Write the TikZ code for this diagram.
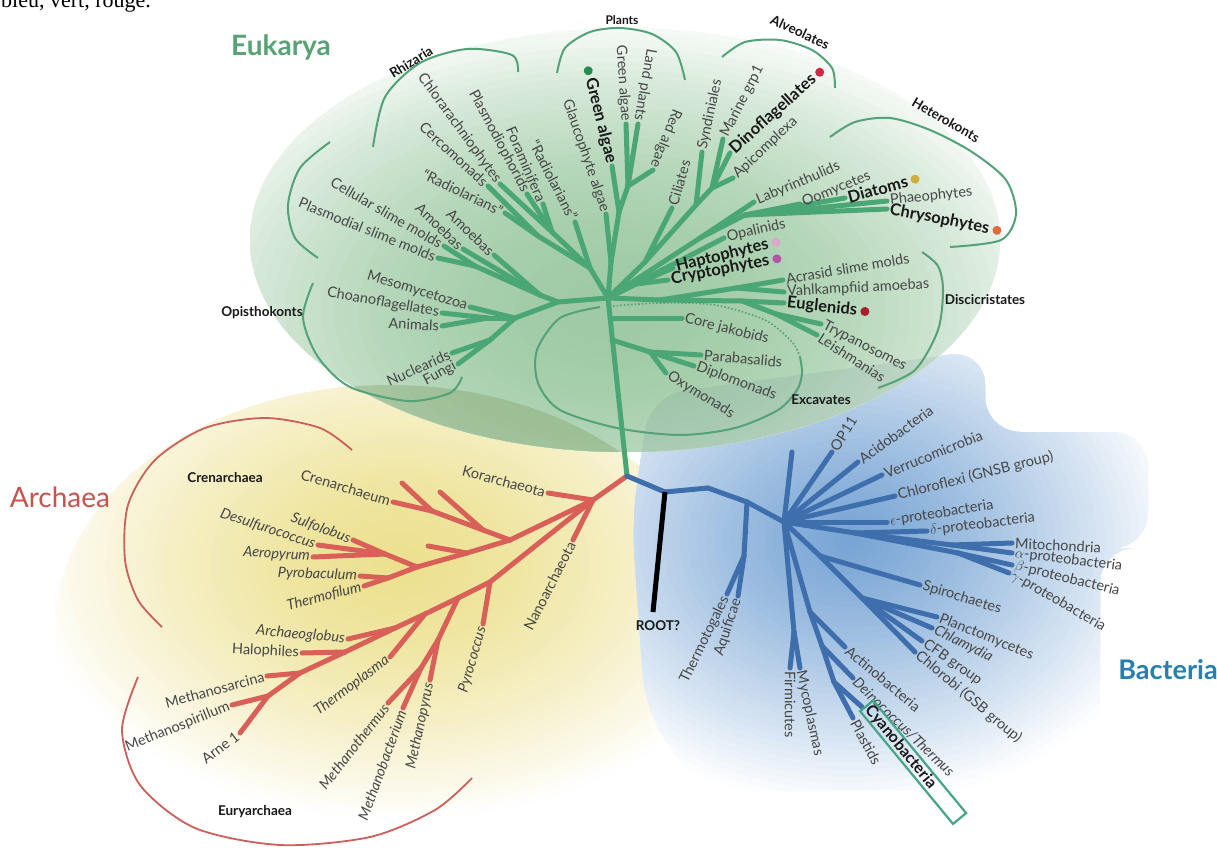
\documentclass[tikz,border=0pt]{standalone}
\usepackage{fontspec}
\setmainfont{Lato}
\newfontfamily\seriffont{Liberation Serif}
\usetikzlibrary{calc}
\definecolor{eukg}{RGB}{74,166,116}
\definecolor{arcg}{RGB}{84,162,120}
\definecolor{archr}{RGB}{216,96,88}
\definecolor{arcr}{RGB}{205,95,90}
\definecolor{bactb}{RGB}{62,110,172}
\definecolor{labc}{RGB}{70,70,70}
\definecolor{boldc}{RGB}{25,25,25}
\definecolor{eukt}{RGB}{88,163,118}
\definecolor{archt}{RGB}{200,82,76}
\definecolor{bactt}{RGB}{38,128,175}
\definecolor{cyanbox}{RGB}{70,165,135}
\definecolor{dgreen}{RGB}{40,140,80}
\definecolor{dred}{RGB}{205,40,70}
\definecolor{dyellow}{RGB}{205,175,60}
\definecolor{dorange}{RGB}{220,110,60}
\definecolor{dpink}{RGB}{222,165,205}
\definecolor{dpurple}{RGB}{180,85,170}
\definecolor{ddarkred}{RGB}{170,30,40}
\definecolor{eukC}{RGB}{158,202,164}
\definecolor{archC}{RGB}{236,224,142}
\definecolor{bactC}{RGB}{118,163,212}
\definecolor{olivemix}{RGB}{115,145,80}
\definecolor{slatemix}{RGB}{90,120,140}
\tikzset{
 lab/.style={font=\fontsize{14.5}{16}\selectfont, text=labc, inner sep=3pt},
 ilab/.style={font=\itshape\fontsize{14.5}{16}\selectfont, text=labc, inner sep=3pt},
 blab/.style={font=\bfseries\fontsize{16.5}{18}\selectfont, text=boldc, inner sep=3pt},
 grp/.style={font=\bfseries\fontsize{13.5}{15}\selectfont, text=boldc, inner sep=0pt},
 ebr/.style={draw=eukg, line width=5pt, line cap=round, line join=round},
 abr/.style={draw=archr, line width=5pt, line cap=round, line join=round},
 bbr/.style={draw=bactb, line width=5pt, line cap=round, line join=round},
 garc/.style={draw=arcg, line width=2pt},
 rarc/.style={draw=arcr, line width=1.8pt},
 dot/.style={circle, inner sep=0pt, minimum size=9pt},
}
\begin{document}
\begin{tikzpicture}[x=1pt,y=-1pt]
\useasboundingbox (0,0) rectangle (1217,853);
\fill[white] (0,0) rectangle (1217,853);
% ---------- backgrounds (stepped radial glows)
\begin{scope}
 \clip (390,630) ellipse [x radius=335, y radius=245];
 \foreach \i in {0,...,39} {
   \pgfmathsetmacro\rr{1-\i/40}
   \pgfmathtruncatemacro\pp{100*(1-\rr^1.5)}
   \fill[archC!\pp!white] (400,565) ellipse [x radius={380*\rr}, y radius={260*\rr}];
 }
\end{scope}
\begin{scope}
 \clip[rounded corners=35] (650,395) -- (985,350) -- (985,432) -- (1148,432) -- (1148,548) -- (1100,548) -- (1100,765) -- (960,790) -- (700,792) -- (645,710) -- (632,520) -- cycle;
 \foreach \i in {0,...,39} {
   \pgfmathsetmacro\rr{1-\i/40}
   \pgfmathtruncatemacro\pp{100*(1-\rr^1.2)}
   \fill[bactC!\pp!white] (850,540) ellipse [x radius={340*\rr}, y radius={270*\rr}];
 }
\end{scope}
\begin{scope}
 \clip (625,240) ellipse [x radius=375, y radius=212];
 \foreach \i in {0,...,39} {
   \pgfmathsetmacro\rr{1-\i/40}
   \pgfmathtruncatemacro\pp{100*(1-\rr^2)}
   \fill[eukC!\pp!white] (610,310) ellipse [x radius={480*\rr}, y radius={300*\rr}];
 }
\end{scope}
% overlap tints
\begin{scope}
 \clip (625,240) ellipse [x radius=375, y radius=212];
 \clip (390,630) ellipse [x radius=335, y radius=245];
 \fill[olivemix, opacity=0.3] (200,350) rectangle (720,460);
\end{scope}
\begin{scope}
 \clip (625,240) ellipse [x radius=375, y radius=212];
 \clip[rounded corners=35] (650,395) -- (985,350) -- (985,432) -- (1148,432) -- (1148,548) -- (1100,548) -- (1100,765) -- (960,790) -- (700,792) -- (645,710) -- (632,520) -- cycle;
 \fill[slatemix, opacity=0.12] (600,330) rectangle (1010,460);
\end{scope}
% ---------- coordinates: Eukarya
\coordinate (HE) at (608,298); \coordinate (J) at (627,476);
\coordinate (L0) at (558,302); \coordinate (Am0) at (540,295); \coordinate (Am1) at (475,266);
\coordinate (tPlasm) at (438,258); \coordinate (tCell) at (444,246);
\coordinate (tAmA) at (463,249); \coordinate (tAmB) at (494,255);
\coordinate (Op0) at (515,318); \coordinate (tMeso) at (470,307); \coordinate (Op1) at (488,318);
\coordinate (tChoa) at (442,313); \coordinate (tAnim) at (442,326);
\coordinate (Op2) at (490,340); \coordinate (tNucl) at (452,353); \coordinate (tFung) at (458,364);
\coordinate (R0) at (590,268); \coordinate (R1) at (552,232); \coordinate (R2) at (538,236);
\coordinate (tChlor) at (500,184); \coordinate (tPlasmo) at (527,194); \coordinate (tForam) at (543,204);
\coordinate (tCerc) at (488,186); \coordinate (tRadL) at (505,213); \coordinate (tRadR) at (575,222);
\coordinate (P0) at (611,262); \coordinate (tGlauc) at (606,214); \coordinate (P1) at (619,212);
\coordinate (tGreenB) at (612,166); \coordinate (P2) at (628,186);
\coordinate (tGreen) at (626,124); \coordinate (tLand) at (638,124); \coordinate (tRed) at (653,170);
\coordinate (V0) at (645,262); \coordinate (tCil) at (672,208); \coordinate (V1) at (696,205);
\coordinate (tSynd) at (702,152); \coordinate (V2) at (712,188); \coordinate (tMar) at (723,139);
\coordinate (tDino) at (730,153); \coordinate (tApic) at (733,178);
\coordinate (K0) at (700,238); \coordinate (tLaby) at (754,202); \coordinate (K1) at (745,215);
\coordinate (tOomy) at (800,204); \coordinate (tDiat) at (845,198); \coordinate (tPhaeo) at (887,201); \coordinate (tChrys) at (887,209);
\coordinate (Q1) at (662,270); \coordinate (tOpal) at (724,238); \coordinate (Q0) at (636,284);
\coordinate (tHapt) at (673,268); \coordinate (tCrypt) at (668,280);
\coordinate (D0) at (660,300); \coordinate (D1) at (736,288); \coordinate (tAcr) at (783,280); \coordinate (tVahl) at (784,292);
\coordinate (D2) at (742,301); \coordinate (tEugl) at (784,303); \coordinate (D3) at (776,314);
\coordinate (tTryp) at (821,324); \coordinate (tLeish) at (817,335);
\coordinate (X0) at (610,318); \coordinate (tJak) at (682,318); \coordinate (X1) at (612,340); \coordinate (X2) at (650,352);
\coordinate (tPara) at (701,355); \coordinate (tDipl) at (694,366); \coordinate (tOxy) at (666,373);
% ---------- coordinates: Archaea
\coordinate (A0) at (593,500); \coordinate (tKor) at (548,493); \coordinate (tNano) at (573,540);
\coordinate (C1) at (510,540); \coordinate (C1a) at (483,530); \coordinate (C1b) at (432,511);
\coordinate (tCrX) at (440,492); \coordinate (tCren) at (393,502); \coordinate (tCrY) at (402,483);
\coordinate (C2) at (467,553); \coordinate (tCrZ) at (428,546); \coordinate (C3) at (417,567);
\coordinate (CS) at (385,554); \coordinate (tSulf) at (353,540); \coordinate (tDesu) at (318,545); \coordinate (tAero) at (313,557);
\coordinate (CP) at (388,578); \coordinate (tPyrob) at (360,576); \coordinate (tTfil) at (364,586);
\coordinate (E1) at (490,582); \coordinate (tPyroc) at (483,624); \coordinate (E2) at (458,598);
\coordinate (M1) at (438,640); \coordinate (tMpyr) at (430,680); \coordinate (M2) at (421,668);
\coordinate (tMbac) at (403,708); \coordinate (tMthe) at (388,703);
\coordinate (E3) at (425,614); \coordinate (tTplas) at (390,657); \coordinate (E4) at (395,628); \coordinate (tArch) at (348,639);
\coordinate (E5) at (345,652); \coordinate (tHalo) at (302,653); \coordinate (E6) at (300,673); \coordinate (tMsar) at (267,676);
\coordinate (E7) at (268,696); \coordinate (tMspi) at (232,705); \coordinate (tArne) at (240,733);
% ---------- coordinates: Bacteria
\coordinate (B1) at (665,492); \coordinate (B2) at (708,488); \coordinate (B3) at (747,502); \coordinate (HB) at (784,522);
\coordinate (tRoot) at (653,612);
\coordinate (T0) at (744,556); \coordinate (tThmt) at (727,594); \coordinate (tAqu) at (738,596);
\coordinate (tBlank) at (792,452); \coordinate (F0) at (794,632); \coordinate (tFirm) at (790,668); \coordinate (tMyco) at (800,668);
\coordinate (Cy0) at (810,612); \coordinate (tActi) at (845,647); \coordinate (Cy1) at (822,646); \coordinate (tDein) at (853,678);
\coordinate (Cy2) at (834,682); \coordinate (tCyan) at (862,707); \coordinate (tPlas) at (853,718);
\coordinate (Sp0) at (820,556); \coordinate (tSpir) at (920,585); \coordinate (Pl0) at (862,598);
\coordinate (tPlan) at (937,617); \coordinate (tChla) at (932,628); \coordinate (tCFB) at (922,641); \coordinate (tChlo) at (915,652);
\coordinate (tOP) at (832,452); \coordinate (tAcid) at (858,462); \coordinate (tVerr) at (882,475); \coordinate (tChlf) at (895,496);
\coordinate (tEps) at (887,522); \coordinate (PR) at (855,533); \coordinate (tDel) at (927,531);
\coordinate (PA) at (952,545); \coordinate (PB) at (958,553);
\coordinate (tMito) at (1012,543); \coordinate (tAlph) at (1012,553); \coordinate (tBeta) at (1012,565); \coordinate (tGamm) at (1009,573);
% ---------- group arcs
\draw[garc] plot[smooth] coordinates {(518,72) (512,55) (467,49) (420,63) (385,97) (373,147)};
\draw[garc] plot[smooth] coordinates {(330,142) (300,168) (288,205) (295,238) (318,258)};
\draw[garc] plot[smooth] coordinates {(557,73) (565,48) (590,32) (620,28) (652,34) (676,52) (685,80)};
\draw[garc] plot[smooth] coordinates {(722,57) (745,42) (780,40) (812,50) (832,68) (835,88)};
\draw[garc] plot[smooth] coordinates {(830,137) (855,122) (890,118) (930,130) (972,152) (1006,180) (1016,214) (1001,240) (950,247)};
\draw[garc] plot[smooth] coordinates {(922,252) (938,266) (943,290) (938,330) (915,370) (878,388)};
\draw[garc] plot[smooth] coordinates {(313,283) (303,318) (318,357) (350,387) (408,401) (450,393) (462,377)};
\draw[garc] plot[smooth] coordinates {(600,307) (560,318) (537,350) (538,383) (560,410) (617,428) (680,435) (735,428) (778,410) (797,390) (802,373) (800,357)};
\draw[draw=arcg, line width=1.6pt, dotted] plot[smooth] coordinates {(613,306) (660,303) (715,305) (765,320) (792,342) (800,357)};
\draw[rarc] plot[smooth] coordinates {(352,450) (320,428) (265,418) (205,428) (155,460) (128,505) (125,560) (138,600) (162,627)};
\draw[rarc] plot[smooth] coordinates {(138,677) (122,730) (140,785) (195,828) (280,845) (370,837) (435,810) (472,778)};
% ---------- branches
\foreach \a/\b in {HE/J, HE/L0, L0/Am0, Am0/Am1, Am1/tPlasm, Am1/tCell, Am0/tAmA, Am0/tAmB, L0/Op0, Op0/tMeso, Op0/Op1, Op1/tChoa, Op1/tAnim, Op0/Op2, Op2/tNucl, Op2/tFung, HE/R0, R0/R1, R1/tChlor, R1/tPlasmo, R1/tForam, R0/R2, R2/tCerc, R2/tRadL, R0/tRadR, HE/P0, P0/tGlauc, P0/P1, P1/tGreenB, P1/P2, P2/tGreen, P2/tLand, P2/tRed, HE/V0, V0/tCil, V0/V1, V1/tSynd, V1/V2, V2/tMar, V2/tDino, V2/tApic, HE/K0, K0/tLaby, K0/K1, K1/tOomy, K1/tDiat, K1/tPhaeo, K1/tChrys, HE/Q1, Q1/tOpal, HE/Q0, Q0/tHapt, Q0/tCrypt, HE/D0, D0/D1, D1/tAcr, D1/tVahl, D0/D2, D2/tEugl, D2/D3, D3/tTryp, D3/tLeish, X0/tJak, X1/X2, X2/tPara, X2/tDipl, X2/tOxy}
  \draw[ebr] (\a) -- (\b);
\foreach \a/\b in {J/A0, A0/tKor, A0/tNano, A0/C1, C1/C2, C2/C3, C1/C1a, C1a/C1b, C1a/tCrX, C1b/tCren, C1b/tCrY, C2/tCrZ, C3/CS, CS/tSulf, CS/tDesu, CS/tAero, C3/CP, CP/tPyrob, CP/tTfil, A0/E1, E1/E2, E2/E3, E3/E4, E4/E5, E5/E6, E6/E7, E1/tPyroc, E2/M1, M1/tMpyr, M1/M2, M2/tMbac, M2/tMthe, E3/tTplas, E4/tArch, E5/tHalo, E6/tMsar, E7/tMspi, E7/tArne}
  \draw[abr] (\a) -- (\b);
\foreach \a/\b in {J/B1, B1/B2, B2/B3, B3/HB, B3/T0, T0/tThmt, T0/tAqu, HB/tBlank, HB/F0, F0/tFirm, F0/tMyco, HB/Cy0, Cy0/tActi, Cy0/Cy1, Cy1/tDein, Cy1/Cy2, Cy2/tCyan, Cy2/tPlas, HB/Sp0, Sp0/tSpir, Sp0/Pl0, Pl0/tPlan, Pl0/tChla, Pl0/tCFB, Pl0/tChlo, HB/tOP, HB/tAcid, HB/tVerr, HB/tChlf, HB/tEps, HB/PR, PR/tDel, PR/PA, PR/PB, PA/tMito, PA/tAlph, PB/tBeta, PB/tGamm}
  \draw[bbr] (\a) -- (\b);
\draw[line width=5pt, black] (B1) -- (tRoot);
% ---------- Eukarya labels
\node[lab, anchor=east, rotate=-22] (lPlasm) at (tPlasm) {Plasmodial slime molds};
\node[lab, anchor=east, rotate=-30] (lCell) at (tCell) {Cellular slime molds};
\node[lab, anchor=east, rotate=-44] (lAmA) at (tAmA) {Amoebas};
\node[lab, anchor=east, rotate=-44] (lAmB) at (tAmB) {Amoebas};
\node[lab, anchor=east, rotate=-26] (lRadL) at (tRadL) {“Radiolarians”};
\node[lab, anchor=east, rotate=-43] (lCerc) at (tCerc) {Cercomonads};
\node[lab, anchor=east, rotate=-54] (lChlor) at (tChlor) {Chlorarachniophytes};
\node[lab, anchor=east, rotate=-62] (lPlasmo) at (tPlasmo) {Plasmodiophorids};
\node[lab, anchor=east, rotate=-67] (lForam) at (tForam) {Foraminifera};
\node[lab, anchor=east, rotate=-63] (lRadR) at (tRadR) {“Radiolarians”};
\node[lab, anchor=east, rotate=-71] (lGlauc) at (tGlauc) {Glaucophyte algae};
\node[blab, anchor=east, rotate=-76] (lGreenB) at (tGreenB) {Green algae};
\node[lab, anchor=east, rotate=-86] (lGreen) at (tGreen) {Green algae};
\node[lab, anchor=east, rotate=-100] (lLand) at (tLand) {Land plants};
\node[lab, anchor=east, rotate=-112] (lRed) at (tRed) {Red algae};
\node[lab, anchor=west, rotate=74] (lCil) at (tCil) {Ciliates};
\node[lab, anchor=west, rotate=78] (lSynd) at (tSynd) {Syndiniales};
\node[lab, anchor=west, rotate=63] (lMar) at (tMar) {Marine grp1};
\node[blab, anchor=west, rotate=42] (lDino) at (tDino) {Dinoflagellates};
\node[lab, anchor=west, rotate=43] (lApic) at (tApic) {Apicomplexa};
\node[lab, anchor=west, rotate=23] (lLaby) at (tLaby) {Labyrinthulids};
\node[lab, anchor=west, rotate=22] (lOomy) at (tOomy) {Oomycetes};
\node[blab, anchor=west, rotate=15] (lDiat) at (tDiat) {Diatoms};
\node[lab, anchor=west, rotate=6] (lPhae) at (tPhaeo) {Phaeophytes};
\node[blab, anchor=west, rotate=-11] (lChrys) at (tChrys) {Chrysophytes};
\node[lab, anchor=west, rotate=13] (lOpal) at (tOpal) {Opalinids};
\node[blab, anchor=west, rotate=14] (lHapt) at (tHapt) {Haptophytes};
\node[blab, anchor=west, rotate=11] (lCrypt) at (tCrypt) {Cryptophytes};
\node[lab, anchor=west, rotate=10] (lAcr) at (tAcr) {Acrasid slime molds};
\node[lab, anchor=west, rotate=3] (lVahl) at (tVahl) {Vahlkampfiid amoebas};
\node[blab, anchor=west, rotate=-6] (lEugl) at (tEugl) {Euglenids};
\node[lab, anchor=west, rotate=-27] (lTryp) at (tTryp) {Trypanosomes};
\node[lab, anchor=west, rotate=-33] (lLeish) at (tLeish) {Leishmanias};
\node[lab, anchor=west, rotate=-14] (lJak) at (tJak) {Core jakobids};
\node[lab, anchor=west, rotate=-5] (lPara) at (tPara) {Parabasalids};
\node[lab, anchor=west, rotate=-20] (lDipl) at (tDipl) {Diplomonads};
\node[lab, anchor=west, rotate=-32] (lOxy) at (tOxy) {Oxymonads};
\node[lab, anchor=east, rotate=-17] (lMeso) at (tMeso) {Mesomycetozoa};
\node[lab, anchor=east, rotate=-10] (lChoa) at (tChoa) {Choanoflagellates};
\node[lab, anchor=east, rotate=-3] (lAnim) at (tAnim) {Animals};
\node[lab, anchor=east, rotate=24] (lNucl) at (tNucl) {Nuclearids};
\node[lab, anchor=east, rotate=28] (lFung) at (tFung) {Fungi};
% dots
\node[dot, fill=dgreen, rotate=-76, anchor=east] (dGreen) at (lGreenB.west) {};
\node[dot, fill=dred, rotate=42, anchor=west] (dDino) at (lDino.east) {};
\node[dot, fill=dyellow, rotate=15, anchor=west] (dDiat) at (lDiat.east) {};
\node[dot, fill=dorange, rotate=-11, anchor=west] (dChrys) at (lChrys.east) {};
\node[dot, fill=dpink, rotate=14, anchor=west] (dHapt) at (lHapt.east) {};
\node[dot, fill=dpurple, rotate=11, anchor=west] (dCrypt) at (lCrypt.east) {};
\node[dot, fill=ddarkred, rotate=-6, anchor=west] (dEugl) at (lEugl.east) {};
% ---------- Archaea labels
\node[lab, anchor=east, rotate=-15] (lKor) at (tKor) {Korarchaeota};
\node[lab, anchor=east, rotate=63] (lNano) at (tNano) {Nanoarchaeota};
\node[lab, anchor=east, rotate=-17] (lCren) at (tCren) {Crenarchaeum};
\node[ilab, anchor=east, rotate=-20] (lSulf) at (tSulf) {Sulfolobus};
\node[ilab, anchor=east, rotate=-18] (lDesu) at (tDesu) {Desulfurococcus};
\node[ilab, anchor=east, rotate=-4] (lAero) at (tAero) {Aeropyrum};
\node[ilab, anchor=east, rotate=-2] (lPyrob) at (tPyrob) {Pyrobaculum};
\node[ilab, anchor=east, rotate=15] (lTfil) at (tTfil) {Thermofilum};
\node[ilab, anchor=east, rotate=-5] (lArch) at (tArch) {Archaeoglobus};
\node[lab, anchor=east, rotate=-3] (lHalo) at (tHalo) {Halophiles};
\node[lab, anchor=east, rotate=15] (lMsar) at (tMsar) {Methanosarcina};
\node[lab, anchor=east, rotate=22] (lMspi) at (tMspi) {Methanospirillum};
\node[lab, anchor=east, rotate=37] (lArne) at (tArne) {Arne 1};
\node[ilab, anchor=east, rotate=37] (lTplas) at (tTplas) {Thermoplasma};
\node[ilab, anchor=east, rotate=52] (lMthe) at (tMthe) {Methanothermus};
\node[ilab, anchor=east, rotate=70] (lMbac) at (tMbac) {Methanobacterium};
\node[ilab, anchor=east, rotate=78] (lMpyr) at (tMpyr) {Methanopyrus};
\node[ilab, anchor=east, rotate=74] (lPyroc) at (tPyroc) {Pyrococcus};
% ---------- Bacteria labels
\node[lab, anchor=west, rotate=58] (lOP) at (tOP) {OP11};
\node[lab, anchor=west, rotate=36] (lAcid) at (tAcid) {Acidobacteria};
\node[lab, anchor=west, rotate=22] (lVerr) at (tVerr) {Verrucomicrobia};
\node[lab, anchor=west, rotate=14] (lChlf) at (tChlf) {Chloroflexi (GNSB group)};
\node[lab, anchor=west, rotate=9] (lEps) at (tEps) {$\epsilon$-proteobacteria};
\node[lab, anchor=west, rotate=7] (lDel) at (tDel) {$\delta$-proteobacteria};
\node[lab, anchor=west, rotate=-3] (lMito) at (tMito) {Mitochondria};
\node[lab, anchor=west, rotate=-7] (lAlph) at (tAlph) {$\alpha$-proteobacteria};
\node[lab, anchor=west, rotate=-14] (lBeta) at (tBeta) {$\beta$-proteobacteria};
\node[lab, anchor=west, rotate=-30] (lGamm) at (tGamm) {$\gamma$-proteobacteria};
\node[lab, anchor=west, rotate=-17] (lSpir) at (tSpir) {Spirochaetes};
\node[lab, anchor=west, rotate=-22] (lPlan) at (tPlan) {Planctomycetes};
\node[ilab, anchor=west, rotate=-27] (lChla) at (tChla) {Chlamydia};
\node[lab, anchor=west, rotate=-35] (lCFB) at (tCFB) {CFB group};
\node[lab, anchor=west, rotate=-40] (lChlo) at (tChlo) {Chlorobi (GSB group)};
\node[lab, anchor=west, rotate=-40] (lActi) at (tActi) {Actinobacteria};
\node[ilab, anchor=west, rotate=-44] (lDein) at (tDein) {Deinococcus/Thermus};
\node[lab, anchor=west, rotate=-62] (lPlas) at (tPlas) {Plastids};
\node[lab, anchor=west, rotate=-90] (lFirm) at (tFirm) {Firmicutes};
\node[lab, anchor=west, rotate=-78] (lMyco) at (tMyco) {Mycoplasmas};
\node[lab, anchor=east, rotate=64] (lThmt) at (tThmt) {Thermotogales};
\node[lab, anchor=east, rotate=72] (lAqu) at (tAqu) {Aquificae};
\node[draw=cyanbox, line width=2.2pt, rotate=-50.5, minimum width=146pt, minimum height=17pt, inner sep=0pt, anchor=west] (cbox) at (866,705) {};
\node[blab, font=\bfseries\fontsize{16}{18}\selectfont, rotate=-50.5, anchor=west] (lCyan) at (cbox.west) {Cyanobacteria};
% ---------- group labels
\node[grp, rotate=32] (gRhiz) at (411,62) {Rhizaria};
\node[grp, font=\bfseries\fontsize{12}{14}\selectfont] (gPlants) at (622,20) {Plants};
\node[grp, rotate=-25] (gAlv) at (800,32) {Alveolates};
\node[grp, rotate=-30] (gHet) at (946,120) {Heterokonts};
\node[grp] (gDisc) at (985,300) {Discicristates};
\node[grp] (gExc) at (821,400) {Excavates};
\node[grp] (gOpis) at (262,313) {Opisthokonts};
\node[grp] (gCren) at (225,478) {Crenarchaea};
\node[grp] (gEury) at (255,812) {Euryarchaea};
\node[grp] (gRoot) at (658,626) {ROOT?};
% ---------- domain labels
\node[font=\bfseries\fontsize{28}{30}\selectfont, text=eukt] (eukarya) at (281,47) {Eukarya};
\node[font=\fontsize{28}{30}\selectfont, text=archt] (archaea) at (60,497) {Archaea};
\node[font=\bfseries\fontsize{27}{30}\selectfont, text=bactt] (bacteria) at (1168,670) {Bacteria};
\node[font=\seriffont\fontsize{22}{24}\selectfont, anchor=base west, inner sep=0pt] (title) at (1,8) {bleu, vert, rouge.};
\end{tikzpicture}
\end{document}
